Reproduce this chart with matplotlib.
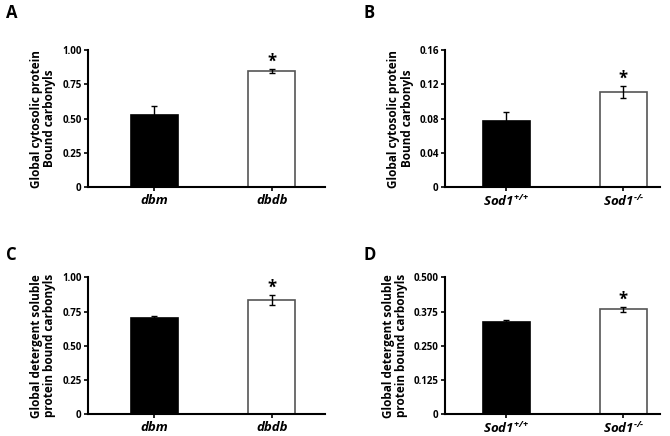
import matplotlib
matplotlib.use('AGG')
import matplotlib.pyplot as plt

plt.rcParams['font.family'] = ['Open Sans', 'DejaVu Sans']
plt.rcParams['font.weight'] = 'bold'
plt.rcParams['mathtext.fontset'] = 'custom'
plt.rcParams['mathtext.it'] = 'Open Sans:italic:bold'
plt.rcParams['mathtext.rm'] = 'Open Sans:italic:bold'

# data
db_groups = ['dbm', 'dbdb']
sod_groups = [r'$\mathit{Sod}\text{1}^{\text{+/+}}$', r'$\mathit{Sod}\text{1}^{\text{-/-}}$']

cyto_db = [0.525, 0.848]
cyto_db_err = [0.065, 0.015]
cyto_sod = [0.077, 0.111]
cyto_sod_err = [0.011, 0.007]

det_db = [0.700, 0.835]
det_db_err = [0.020, 0.038]
det_sod = [0.335, 0.383]
det_sod_err = [0.010, 0.010]

cyto_label = 'Global cytosolic protein\nBound carbonyls'
det_label = 'Global detergent soluble\nprotein bound carbonyls'

panels = [
  # letter, groups, values, errors, ylabel, ymax, yticks, ticklabels, rect, xlim
  ('A', db_groups, cyto_db, cyto_db_err, cyto_label, 1.0,
   [0, 0.25, 0.5, 0.75, 1.0], ['0', '0.25', '0.50', '0.75', '1.00'],
   [0.131, 0.571, 0.354, 0.314], (-0.566, 1.451)),
  ('B', sod_groups, cyto_sod, cyto_sod_err, cyto_label, 0.16,
   [0, 0.04, 0.08, 0.12, 0.16], ['0', '0.04', '0.08', '0.12', '0.16'],
   [0.664, 0.571, 0.321, 0.314], (-0.526, 1.312)),
  ('C', db_groups, det_db, det_db_err, det_label, 1.0,
   [0, 0.25, 0.5, 0.75, 1.0], ['0', '0.25', '0.50', '0.75', '1.00'],
   [0.131, 0.050, 0.354, 0.314], (-0.566, 1.451)),
  ('D', sod_groups, det_sod, det_sod_err, det_label, 0.5,
   [0, 0.125, 0.25, 0.375, 0.5], ['0', '0.125', '0.250', '0.375', '0.500'],
   [0.664, 0.050, 0.321, 0.314], (-0.526, 1.312)),
]

fig = plt.figure(figsize=(6.7, 4.36), dpi=100)

for letter, groups, vals, errs, ylab, ymax, yt, ytl, rect, xlim in panels:
  ax = fig.add_axes(rect)
  ax.bar([0, 1], vals, width=0.4, color=['black', 'white'],
         edgecolor=['black', '#555555'], linewidth=1.2, zorder=2)
  ax.errorbar([0, 1], vals, yerr=errs, fmt='none', ecolor='black',
              elinewidth=1.0, capsize=2.5, capthick=1.0, zorder=3)
  # significance star above the second bar
  ax.text(1, vals[1] + errs[1] - ymax * 0.015, '*', ha='center', va='bottom',
          fontsize=12, fontweight='bold')
  ax.set_xlim(*xlim)
  ax.set_ylim(0, ymax)
  ax.set_yticks(yt)
  ax.set_yticklabels(ytl, fontsize=7, fontweight='bold')
  ax.set_xticks([0, 1])
  ax.set_xticklabels(groups, fontsize=9.5, fontweight='bold', style='italic')
  ax.set_ylabel(ylab, fontsize=8.5, fontweight='bold', labelpad=4, linespacing=1.05)
  for s in ['top', 'right']:
    ax.spines[s].set_visible(False)
  for s in ['left', 'bottom']:
    ax.spines[s].set_linewidth(1.5)
  ax.tick_params(axis='y', length=3, width=1.2, pad=1.5)
  ax.tick_params(axis='x', length=3, width=1.2, pad=2)
  ty = rect[1] + rect[3] + (0.085 if letter in 'AB' else 0.05)
  fig.text(rect[0] - 0.122, ty, letter, fontsize=12, fontweight='bold',
           ha='left', va='center')

plt.savefig('out.png', dpi=100)
plt.close()
